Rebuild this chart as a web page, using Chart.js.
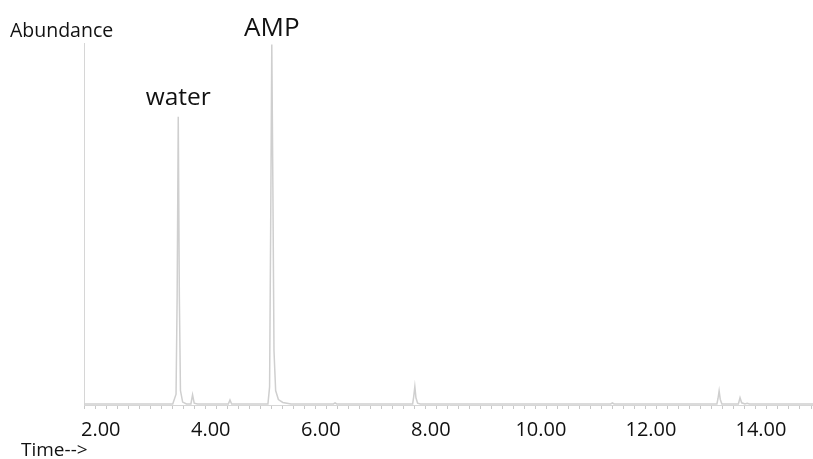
<!DOCTYPE html>
<html>
<head>
<meta charset="utf-8">
<script src="https://cdn.jsdelivr.net/npm/chart.js@4.4.0/dist/chart.umd.min.js"></script>
<style>
  html, body { margin: 0; padding: 0; background: #fff; overflow: hidden; }
  #wrap { width: 820px; height: 459px; position: relative; }
</style>
</head>
<body>
<div id="wrap"><canvas id="tic"></canvas></div>
<script>
// retention time (min) and abundance (% of axis height)
const retentionTimes = [1.60, 2.50, 3.20, 3.26, 3.28, 3.30, 3.32, 3.34, 3.38, 3.45,
    3.53, 3.56, 3.59, 3.65, 4.21, 4.24, 4.27, 4.93, 4.96, 4.98, 5.00, 5.02, 5.04,
    5.07, 5.12, 5.20, 5.35, 6.12, 6.15, 6.18, 7.56, 7.58, 7.60, 7.62, 7.65, 7.70,
    11.16, 11.19, 11.22, 13.09, 13.11, 13.13, 13.15, 13.18, 13.48, 13.51, 13.54,
    13.60, 13.64, 13.68, 14.87];
const abundances = [0.3, 0.3, 0.3, 3, 30, 79.6, 30, 4, 0.8, 0.3,
    0.3, 2.8, 0.5, 0.3, 0.3, 1.4, 0.3, 0.3, 5, 50, 99.6, 60, 15,
    4, 1.5, 0.7, 0.3, 0.3, 0.6, 0.3, 0.3, 2.4, 5.1, 2.0, 0.5, 0.3,
    0.3, 0.6, 0.3, 0.3, 1.8, 3.9, 1.6, 0.3, 0.3, 2.0, 0.6,
    0.3, 0.5, 0.3, 0.3];

// peak annotations
const peakNames = ['water', 'AMP'];
const peakTimes = [3.30, 5.00];
const peakHeights = [79.6, 99.6];

const xTickStep = 0.2;
const xLabelEvery = 2;

const points = retentionTimes.map((t, i) => ({ x: t, y: abundances[i] }));

const textPlugin = {
    id: 'texts',
    afterDraw(chart) {
        const ctx = chart.ctx;
        const xs = chart.scales.x, ys = chart.scales.y;
        ctx.save();
        ctx.fillStyle = '#111';
        ctx.textBaseline = 'alphabetic';
        ctx.font = '19.5px "Open Sans"';
        ctx.textAlign = 'left';
        ctx.fillText('Abundance', 10, 37);
        ctx.font = '19px "Open Sans"';
        ctx.fillText('Time-->', 21, 456);
        const sizes = [24.5, 26];
        const gaps = [12, 8];
        ctx.textAlign = 'center';
        peakNames.forEach((name, i) => {
            ctx.font = sizes[i] + 'px "Open Sans"';
            const px = xs.getPixelForValue(peakTimes[i]);
            const py = ys.getPixelForValue(peakHeights[i]) - gaps[i];
            ctx.fillText(name, px, py);
        });
        ctx.restore();
    }
};

new Chart(document.getElementById('tic'), {
    type: 'line',
    data: {
        datasets: [{
            data: points,
            borderColor: '#cfcfcf',
            borderWidth: 1.5,
            pointRadius: 0,
            tension: 0,
            fill: false
        }]
    },
    options: {
        responsive: true,
        maintainAspectRatio: false,
        animation: false,
        events: [],
        layout: { padding: { left: 84, right: 0, top: 43, bottom: 8 } },
        plugins: { legend: { display: false }, tooltip: { enabled: false } },
        scales: {
            x: {
                type: 'linear',
                min: 1.587,
                max: 14.87,
                border: { display: true, color: '#d6d6d6', width: 1 },
                grid: {
                    drawOnChartArea: false,
                    drawTicks: true,
                    tickLength: 4,
                    tickColor: '#c8c8c8'
                },
                ticks: {
                    stepSize: xTickStep,
                    includeBounds: false,
                    autoSkip: false,
                    maxRotation: 0,
                    labelOffset: -6,
                    padding: 9,
                    color: '#111',
                    font: { family: '"Open Sans"', size: 20 },
                    callback: function (v) {
                        const r = Math.round(v);
                        if (Math.abs(v - r) < 1e-6 && r % xLabelEvery === 0) return r.toFixed(2);
                        return '';
                    }
                }
            },
            y: {
                min: 0,
                max: 100,
                border: { display: true, color: '#d6d6d6', width: 1 },
                grid: { display: false, drawTicks: false },
                ticks: { display: false }
            }
        }
    },
    plugins: [textPlugin]
});
</script>
</body>
</html>
